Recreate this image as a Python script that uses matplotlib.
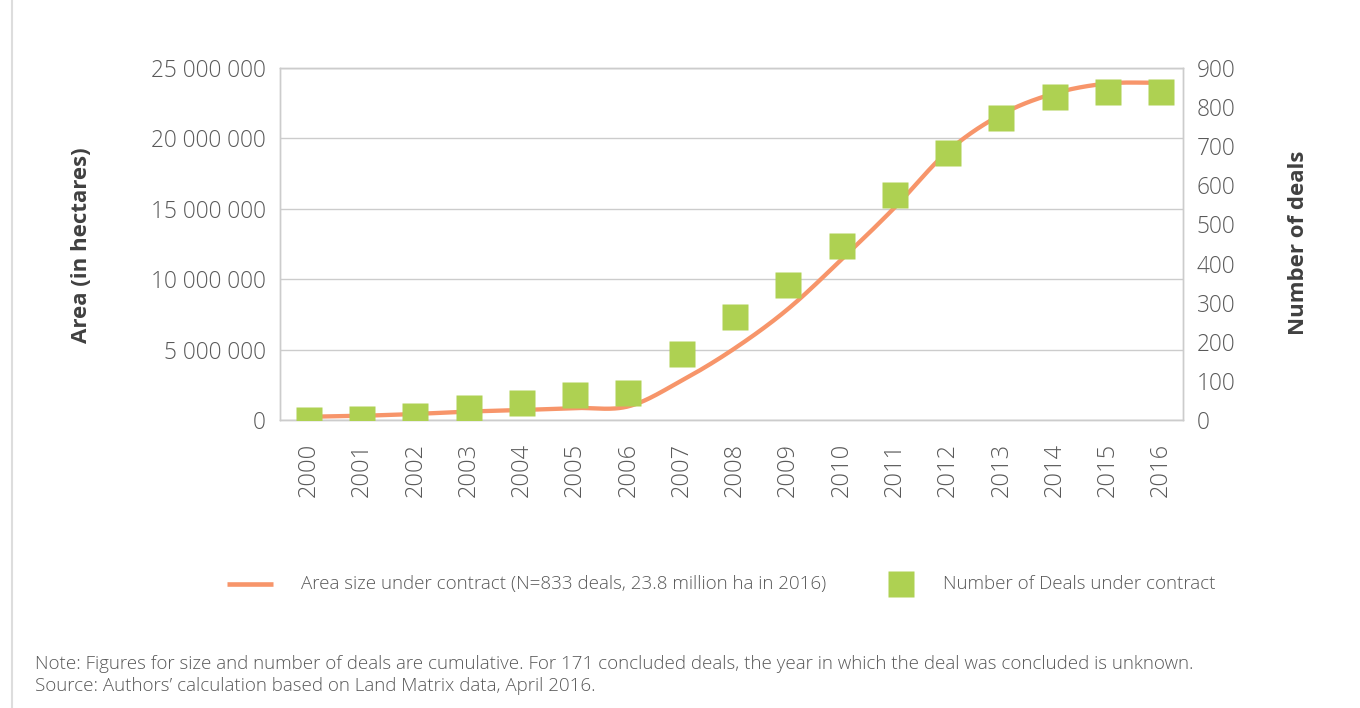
import numpy as np
import matplotlib
matplotlib.use('Agg')
import matplotlib.pyplot as plt
from matplotlib.lines import Line2D
from matplotlib.ticker import FixedLocator, FuncFormatter

# ---------------- data ----------------
years = [str(y) for y in range(2000, 2017)]
area_ha = [0.23e6, 0.30e6, 0.43e6, 0.60e6, 0.71e6, 0.85e6, 0.97e6, 2.8e6, 5.1e6,
           7.9e6, 11.4e6, 15.1e6, 19.1e6, 21.7e6, 23.2e6, 23.9e6, 23.95e6]
deals = [1, 2, 10, 31, 43, 65, 69, 170, 263, 345, 445, 576, 683, 773, 827, 839, 839]
left_ticks = [0, 5e6, 10e6, 15e6, 20e6, 25e6]
right_ticks = [0, 100, 200, 300, 400, 500, 600, 700, 800, 900]

area_label = 'Area size under contract (N=833 deals, 23.8 million ha in 2016)'
deals_label = 'Number of Deals under contract'
note_lines = ['Note: Figures for size and number of deals are cumulative. For 171 concluded deals, '
              'the year in which the deal was concluded is unknown.',
              'Source: Authors\u2019 calculation based on Land Matrix data, April 2016.']

# ---------------- style ----------------
ORANGE = '#F7956A'
GREEN = '#AED152'
GRID = '#CCCCCC'
TICK = '#595959'
TITLE = '#404040'
plt.rcParams['font.family'] = ['Open Sans', 'DejaVu Sans']

W, H = 1360, 708
fig = plt.figure(figsize=(W / 100, H / 100), dpi=100)


def fx(px):
    return px / W


def fy(py):
    return 1 - py / H


def smooth(xs, ys, n=40):
    """Catmull-Rom smoothing through the data points (like Excel's smoothed line)."""
    xs = np.asarray(xs, float)
    ys = np.asarray(ys, float)
    px = np.concatenate([[2 * xs[0] - xs[1]], xs, [2 * xs[-1] - xs[-2]]])
    py = np.concatenate([[2 * ys[0] - ys[1]], ys, [2 * ys[-1] - ys[-2]]])
    ox, oy = [], []
    t = np.linspace(0, 1, n, endpoint=False)
    for i in range(1, len(px) - 2):
        for arr, out in ((px, ox), (py, oy)):
            p0, p1, p2, p3 = arr[i - 1], arr[i], arr[i + 1], arr[i + 2]
            out.extend(0.5 * ((2 * p1) + (-p0 + p2) * t
                              + (2 * p0 - 5 * p1 + 4 * p2 - p3) * t ** 2
                              + (-p0 + 3 * p1 - 3 * p2 + p3) * t ** 3))
    ox.append(xs[-1])
    oy.append(ys[-1])
    return np.array(ox), np.array(oy)


left, right, top, bottom = 280, 1183, 68, 420
ax = fig.add_axes([fx(left), fy(bottom), fx(right) - fx(left), fy(top) - fy(bottom)])
ax2 = ax.twinx()

x = np.arange(len(years))
sx, sy = smooth(x, area_ha)
ax.plot(sx, sy, color=ORANGE, lw=3.1, solid_capstyle='butt', zorder=3)
ax2.plot(x, deals, linestyle='none', marker='s', markersize=18.7,
         markerfacecolor=GREEN, markeredgecolor='none', zorder=4)

ax.set_xlim(-0.54, 16.41)
ax.set_ylim(0, 25e6)
ax2.set_ylim(0, 900)

ax.yaxis.set_major_locator(FixedLocator(left_ticks))
ax.yaxis.set_major_formatter(FuncFormatter(lambda v, p: f'{v:,.0f}'.replace(',', ' ')))
ax2.yaxis.set_major_locator(FixedLocator(right_ticks))
ax.set_xticks(x)
ax.set_xticklabels(years, rotation=90, va='top', ha='center')

ax.grid(axis='y', color=GRID, lw=1.0)
ax.set_axisbelow(True)
for a in (ax, ax2):
    for s in a.spines.values():
        s.set_color(GRID)
        s.set_linewidth(1.0)
ax.tick_params(axis='y', length=0, pad=10, labelsize=16.3, labelcolor=TICK)
ax.tick_params(axis='x', length=0, pad=16.5, labelsize=17.0, labelcolor=TICK)
ax2.tick_params(axis='y', length=0, pad=10, labelsize=16.3, labelcolor=TICK)
for lab in ax.get_yticklabels() + ax.get_xticklabels() + ax2.get_yticklabels():
    lab.set_fontweight('light')

ax.set_ylabel('Area (in hectares)', fontsize=16, fontweight='bold', color=TITLE)
ax.yaxis.set_label_coords((92 - left) / (right - left), (bottom - 245) / (bottom - top))
ax2.set_ylabel('Number of deals', fontsize=16, fontweight='bold', color=TITLE)
ax2.yaxis.set_label_coords((1288 - left) / (right - left), (bottom - 243) / (bottom - top))

# legend (manual keys)
fig.add_artist(Line2D([fx(227), fx(273)], [fy(584), fy(584)], color=ORANGE, lw=3.3,
                      solid_capstyle='butt'))
fig.text(fx(301), fy(584), area_label, fontsize=13.5, fontweight='light', color=TICK,
         ha='left', va='center')
fig.add_artist(Line2D([fx(901)], [fy(584)], marker='s', markersize=18.7,
                      markerfacecolor=GREEN, markeredgecolor='none', linestyle='none'))
fig.text(fx(943), fy(584), deals_label, fontsize=13.5, fontweight='light', color=TICK,
         ha='left', va='center')

# footnote
fig.text(fx(35), fy(664), note_lines[0], fontsize=13.5, fontweight='light', color=TICK,
         ha='left', va='center')
fig.text(fx(35), fy(686), note_lines[1], fontsize=13.5, fontweight='light', color=TICK,
         ha='left', va='center')

# left frame line
fig.add_artist(Line2D([fx(12), fx(12)], [0, 1], color='#DDDDDD', lw=1.5))

fig.savefig('out.png', dpi=100)
